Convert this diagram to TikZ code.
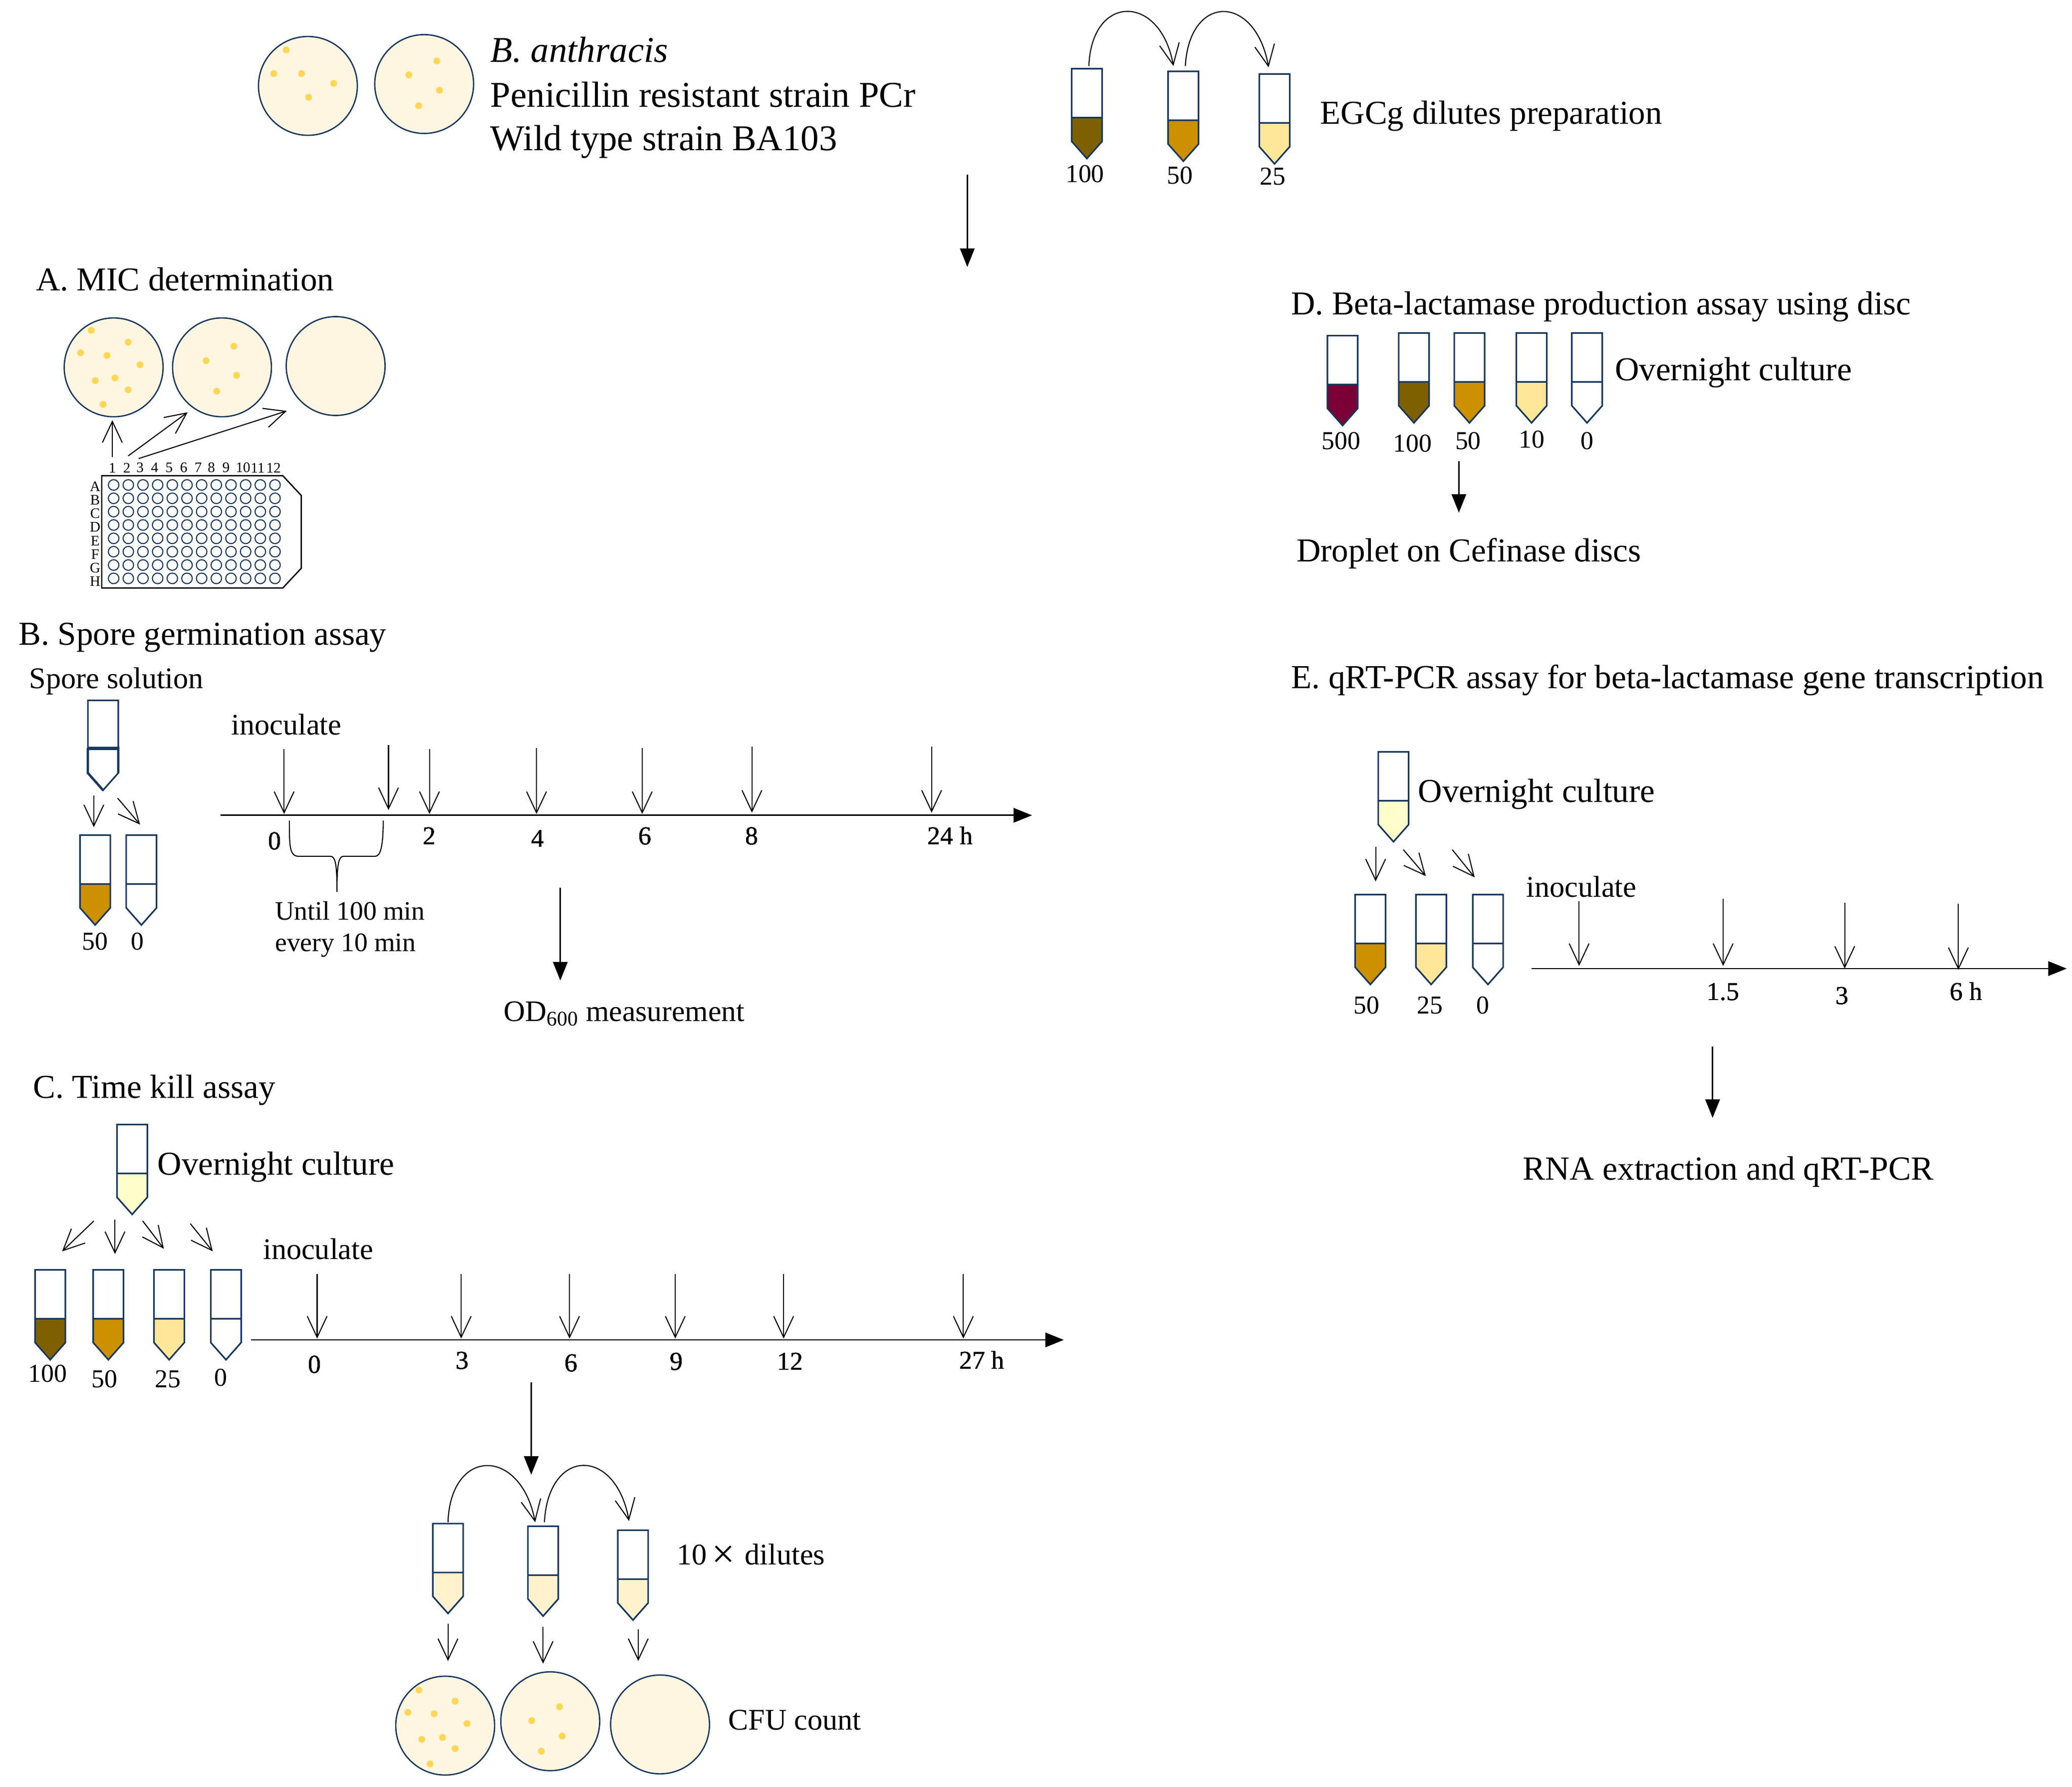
\documentclass[tikz,border=0pt]{standalone}
\usepackage{fontspec}
\setmainfont{Liberation Serif}
\usetikzlibrary{arrows.meta}

\definecolor{navy}{HTML}{17375E}
\definecolor{dark}{HTML}{7F6000}
\definecolor{mid}{HTML}{CC9000}
\definecolor{light}{HTML}{FFE699}
\definecolor{pale}{HTML}{FFFFCC}
\definecolor{wash}{HTML}{FFF2CC}
\definecolor{maroon}{HTML}{7A0035}
\definecolor{agar}{HTML}{FFF6E1}
\definecolor{colony}{HTML}{FFD655}

\tikzset{
    big/.style={font=\fontsize{27.5}{28}\selectfont, anchor=base west, inner sep=0pt},
    head/.style={font=\fontsize{25.3}{26}\selectfont, anchor=base west, inner sep=0pt},
    mid text/.style={font=\fontsize{22.7}{23}\selectfont, anchor=base west, inner sep=0pt},
    note/.style={font=\fontsize{20.2}{21}\selectfont, anchor=base west, inner sep=0pt},
    num/.style={font=\fontsize{19.5}{20}\selectfont, anchor=base, inner sep=0pt},
    tiny/.style={font=\fontsize{11}{11}\selectfont, anchor=center, inner sep=0pt},
    dish/.style={circle, draw=navy, fill=agar, line width=1pt, minimum size=74.8pt, inner sep=0pt},
    well/.style={draw=navy, line width=0.8pt},
    thin arrow/.style={-{Straight Barb[length=16pt,width=15pt]}, line width=0.8pt},
    long arrow/.style={-{Triangle[length=14pt,width=11pt]}, line width=1pt},
    pics/tube/.style={code={
        \fill[#1] (-11.5,37) -- (11.5,37) -- (11.5,55) -- (0,68) -- (-11.5,55) -- cycle;
        \draw[navy, line width=1.2pt, line join=miter] (-11.5,37) -- (-11.5,0) -- (11.5,0) -- (11.5,37)
            -- (11.5,55) -- (0,68) -- (-11.5,55) -- (-11.5,37) -- (11.5,37);
    }}
}

% free arrow between two named coordinates
\newcommand{\arrowat}[4][thin arrow]{
    \coordinate (#2s) at (#3);
    \coordinate (#2e) at (#4);
    \draw[#1] (#2s) -- (#2e);
}

\def\manydots{-17/-28,11/-19,-25/-11,-5/-9,20/-2,-14/10,1/8,11/17,-8/28}
\def\fewdots{9/-16,-12/-5,11/6,-4/18}

\begin{document}
\begin{tikzpicture}[x=1pt,y=-1pt]
    \useasboundingbox[fill=white] (0,0) rectangle (1568,1352);

    % the strains on top
    \node[dish] (top1) at (233,65) {};
    \node[dish] (top2) at (321,63.6) {};
    \foreach \dx/\dy in {-16.4/-27.2,-25.8/-9.3,-4.8/-9.3,19.5/-1.9,0.5/8.6}
        \fill[colony] (top1.center) ++(\dx,\dy) circle (2.6pt);
    \foreach \dx/\dy in {9.6/-17.5,-11.6/-6.9,11.6/4.7,-4.2/16.4}
        \fill[colony] (top2.center) ++(\dx,\dy) circle (2.6pt);
    \node[big] (species) at (371,47) {\itshape B. anthracis};
    \node[big] (strain1) at (371,81) {Penicillin resistant strain PCr};
    \node[big] (strain2) at (371,114) {Wild type strain BA103};

    % the EGCg dilutes
    \pic (eg1) at (822.5,52) {tube=dark};
    \pic (eg2) at (895.5,54) {tube=mid};
    \pic (eg3) at (964.5,56) {tube=light};
    \node[num] (egn1) at (821,138) {100};
    \node[num] (egn2) at (893,139) {50};
    \node[num] (egn3) at (963,140) {25};
    \coordinate (ega) at (824,50);
    \coordinate (egb) at (888,50);
    \coordinate (egc) at (897,50);
    \coordinate (egd) at (960,51);
    \draw[thin arrow] (ega) .. controls (826,-5) and (878,-5) .. (egb);
    \draw[thin arrow] (egc) .. controls (900,-5) and (950,-5) .. (egd);
    \node[head] (egt) at (999,94) {EGCg dilutes preparation};
    \arrowat[long arrow]{down0}{732,132}{732,202}

    % A. MIC
    \node[head] (Ahead) at (27,220) {A. MIC determination};
    \node[dish] (A1) at (86,278) {};
    \node[dish] (A2) at (168,278) {};
    \node[dish] (A3) at (254,277) {};
    \foreach \dx/\dy in \manydots
        \fill[colony] (A1.center) ++(\dx,\dy) circle (2.6pt);
    \foreach \dx/\dy in \fewdots
        \fill[colony] (A2.center) ++(\dx,\dy) circle (2.6pt);
    \arrowat{Aa}{85,346}{85,318}
    \arrowat{Ab}{97,345}{142,312}
    \arrowat{Ac}{105,347}{217,311}

    % the 96 well plate
    \draw[line width=1pt] (77,360) -- (214,360) -- (228,375) -- (228,430) -- (214,445) -- (77,445) -- cycle;
    \foreach \col in {1,...,12}
        \foreach \row in {1,...,8}
            \draw[well] ({86+(\col-1)*11.1},{367+(\row-1)*10.1}) circle (4pt);
    \foreach \n/\x in {1/85,2/96,3/106,4/117,5/128,6/139,7/150,8/160,9/171,10/184,11/195,12/207}
        \node[tiny] (col\n) at (\x,354) {\n};
    \foreach \n/\l in {1/A,2/B,3/C,4/D,5/E,6/F,7/G,8/H}
        \node[tiny] (row\n) at (72,{368+(\n-1)*10.3}) {\l};

    % B. spores
    \node[head] (Bhead) at (14,488) {B. Spore germination assay};
    \node[mid text] (Bsol) at (22,521) {Spore solution};
    \pic (Bs) at (78,530) {tube=white};
    \draw[navy, line width=1.8pt] (66.5,566) -- (89.5,566) -- (89.5,585) (66.5,566) -- (66.5,585) -- (78,598);
    \arrowat{Ba}{71,602}{71,626}
    \arrowat{Bb}{89,604}{106,624}
    \pic (B1) at (72,632) {tube=mid};
    \pic (B2) at (107,632) {tube=white};
    \node[num] (Bn1) at (72,719) {50};
    \node[num] (Bn2) at (104,719) {0};
    \node[mid text] (Binoc) at (175,556) {inoculate};

    % the time line of B
    \arrowat[long arrow]{Bline}{167,617}{781,617}
    \foreach \n/\x/\ya/\yb in {1/215/567/616,2/294/564/613,3/325/567/616,4/406/566/616,5/486/566/616,6/569/565/615,7/705/565/615}
        \arrowat{Bt\n}{\x,\ya}{\x,\yb}
    \foreach \n/\t/\x/\y in {1/0/208/643,2/2/325/639,3/4/407/641,4/6/488/639,5/8/569/639,6/24 h/719/639}
        \node[num] (Bl\n) at (\x,\y) {\t};
    \draw[line width=0.8pt] (219,621) .. controls (219,640) and (219,648) .. (226,648) -- (250,648)
        .. controls (254,648) and (255,655) .. (255,675) .. controls (255,655) and (256,648) .. (260,648)
        -- (284,648) .. controls (288,648) and (290,640) .. (290,621);
    \node[note] (Bn3) at (208,696) {Until 100 min};
    \node[note] (Bn4) at (208,720) {every 10 min};
    \arrowat[long arrow]{Bdown}{424,672}{424,742}
    \node[mid text, font=\fontsize{22.5}{23}\selectfont] (Bod) at (381,773) {OD\textsubscript{600} measurement};

    % C. time kill
    \node[head] (Chead) at (25,831) {C. Time kill assay};
    \pic (Cs) at (100,851) {tube=pale};
    \node[head] (Cover) at (119,889) {Overnight culture};
    \arrowat{Ca}{71,924}{47,947}
    \arrowat{Cb}{87,923}{87,949}
    \arrowat{Cc}{108,924}{124,945}
    \arrowat{Cd}{144,926}{161,947}
    \pic (C1) at (38,961) {tube=dark};
    \pic (C2) at (82,961) {tube=mid};
    \pic (C3) at (128,961) {tube=light};
    \pic (C4) at (171,961) {tube=white};
    \foreach \n/\t/\x/\y in {1/100/36/1046,2/50/79/1050,3/25/127/1050,4/0/167/1049}
        \node[num] (Cn\n) at (\x,\y) {\t};
    \node[mid text] (Cinoc) at (199,953) {inoculate};

    % the time line of C
    \arrowat[long arrow]{Cline}{190,1014}{805,1014}
    \foreach \n/\x in {1/240,2/349,3/431,4/511,5/593,6/729}
        \arrowat{Ct\n}{\x,964}{\x,1013}
    \foreach \n/\t/\x/\y in {1/0/238/1039,2/3/350/1036,3/6/432/1038,4/9/512/1037,5/12/598/1037,6/27 h/743/1036}
        \node[num] (Cl\n) at (\x,\y) {\t};
    \arrowat[long arrow]{Cdown}{402,1046}{402,1116}

    % the 10x dilutes and the counts
    \pic (Cd1) at (339,1153) {tube=wash};
    \pic (Cd2) at (411,1155) {tube=wash};
    \pic (Cd3) at (479,1158) {tube=wash};
    \coordinate (cda) at (339,1152);
    \coordinate (cdb) at (405,1152);
    \coordinate (cdc) at (412,1152);
    \coordinate (cdd) at (476,1151);
    \draw[thin arrow] (cda) .. controls (341,1095) and (394,1095) .. (cdb);
    \draw[thin arrow] (cdc) .. controls (415,1095) and (466,1095) .. (cdd);
    \node[mid text] (Cten) at (512,1184) {10\,\raisebox{-2.5pt}{\fontsize{31}{31}\selectfont ×}\,\,dilutes};
    \arrowat{Ce}{339,1229}{339,1257}
    \arrowat{Cf}{411,1231}{411,1259}
    \arrowat{Cg}{483,1233}{483,1257}
    \node[dish] (C5) at (336.9,1305.9) {};
    \node[dish] (C6) at (416.4,1302.6) {};
    \node[dish] (C7) at (499.5,1305) {};
    \foreach \dx/\dy in {-19.9/-26.9,7.5/-18.5,-28.3/-10,-8.3/-9,16.5/-1.6,-17.7/10.4,-2/8.9,7.5/17.4,-11.4/29}
        \fill[colony] (C5.center) ++(\dx,\dy) circle (2.6pt);
    \foreach \dx/\dy in {7/-11,-14/-0.5,9/11.2,-6.7/22.6}
        \fill[colony] (C6.center) ++(\dx,\dy) circle (2.6pt);
    \node[mid text] (Ccfu) at (551,1309) {CFU count};

    % D. disc
    \node[head, font=\fontsize{25.2}{26}\selectfont] (Dhead) at (977,238) {D. Beta-lactamase production assay using disc};
    \pic (D1) at (1016,254) {tube=maroon};
    \pic (D2) at (1070,252) {tube=dark};
    \pic (D3) at (1112,252) {tube=mid};
    \pic (D4) at (1159,252) {tube=light};
    \pic (D5) at (1201,252) {tube=white};
    \foreach \n/\t/\x/\y in {1/500/1015/340,2/100/1069/342,3/50/1111/340,4/10/1159/339,5/0/1201/340}
        \node[num] (Dn\n) at (\x,\y) {\t};
    \node[head] (Dover) at (1222,288) {Overnight culture};
    \arrowat[long arrow]{Ddown}{1104,349}{1104,388}
    \node[head] (Ddrop) at (981,425) {Droplet on Cefinase discs};

    % E. qRT-PCR
    \node[head, font=\fontsize{25.4}{26}\selectfont] (Ehead) at (977,521) {E. qRT-PCR assay for beta-lactamase gene transcription};
    \pic (Es) at (1054.5,569) {tube=pale};
    \node[head] (Eover) at (1073,607) {Overnight culture};
    \arrowat{Ea}{1041,641}{1041,667}
    \arrowat{Eb}{1062,643}{1079,663}
    \arrowat{Ec}{1099,643}{1116,664}
    \pic (E1) at (1037,677) {tube=mid};
    \pic (E2) at (1083,677) {tube=light};
    \pic (E3) at (1126,677) {tube=white};
    \foreach \n/\t/\x in {1/50/1034,2/25/1082,3/0/1122}
        \node[num] (En\n) at (\x,767) {\t};
    \node[mid text] (Einoc) at (1155,679) {inoculate};

    % the time line of E
    \arrowat[long arrow]{Eline}{1159,733}{1564,733}
    \foreach \n/\x/\ya/\yb in {1/1195/682/731,2/1304/680/731,3/1396/683/733,4/1482/684/734}
        \arrowat{Et\n}{\x,\ya}{\x,\yb}
    \foreach \n/\t/\x/\y in {1/1.5/1304/757,2/3/1394/760,3/6 h/1488/757}
        \node[num] (El\n) at (\x,\y) {\t};
    \arrowat[long arrow]{Edown}{1296,792}{1296,846}
    \node[head, font=\fontsize{25.6}{26}\selectfont] (Erna) at (1152,893) {RNA extraction and qRT-PCR};
\end{tikzpicture}
\end{document}
